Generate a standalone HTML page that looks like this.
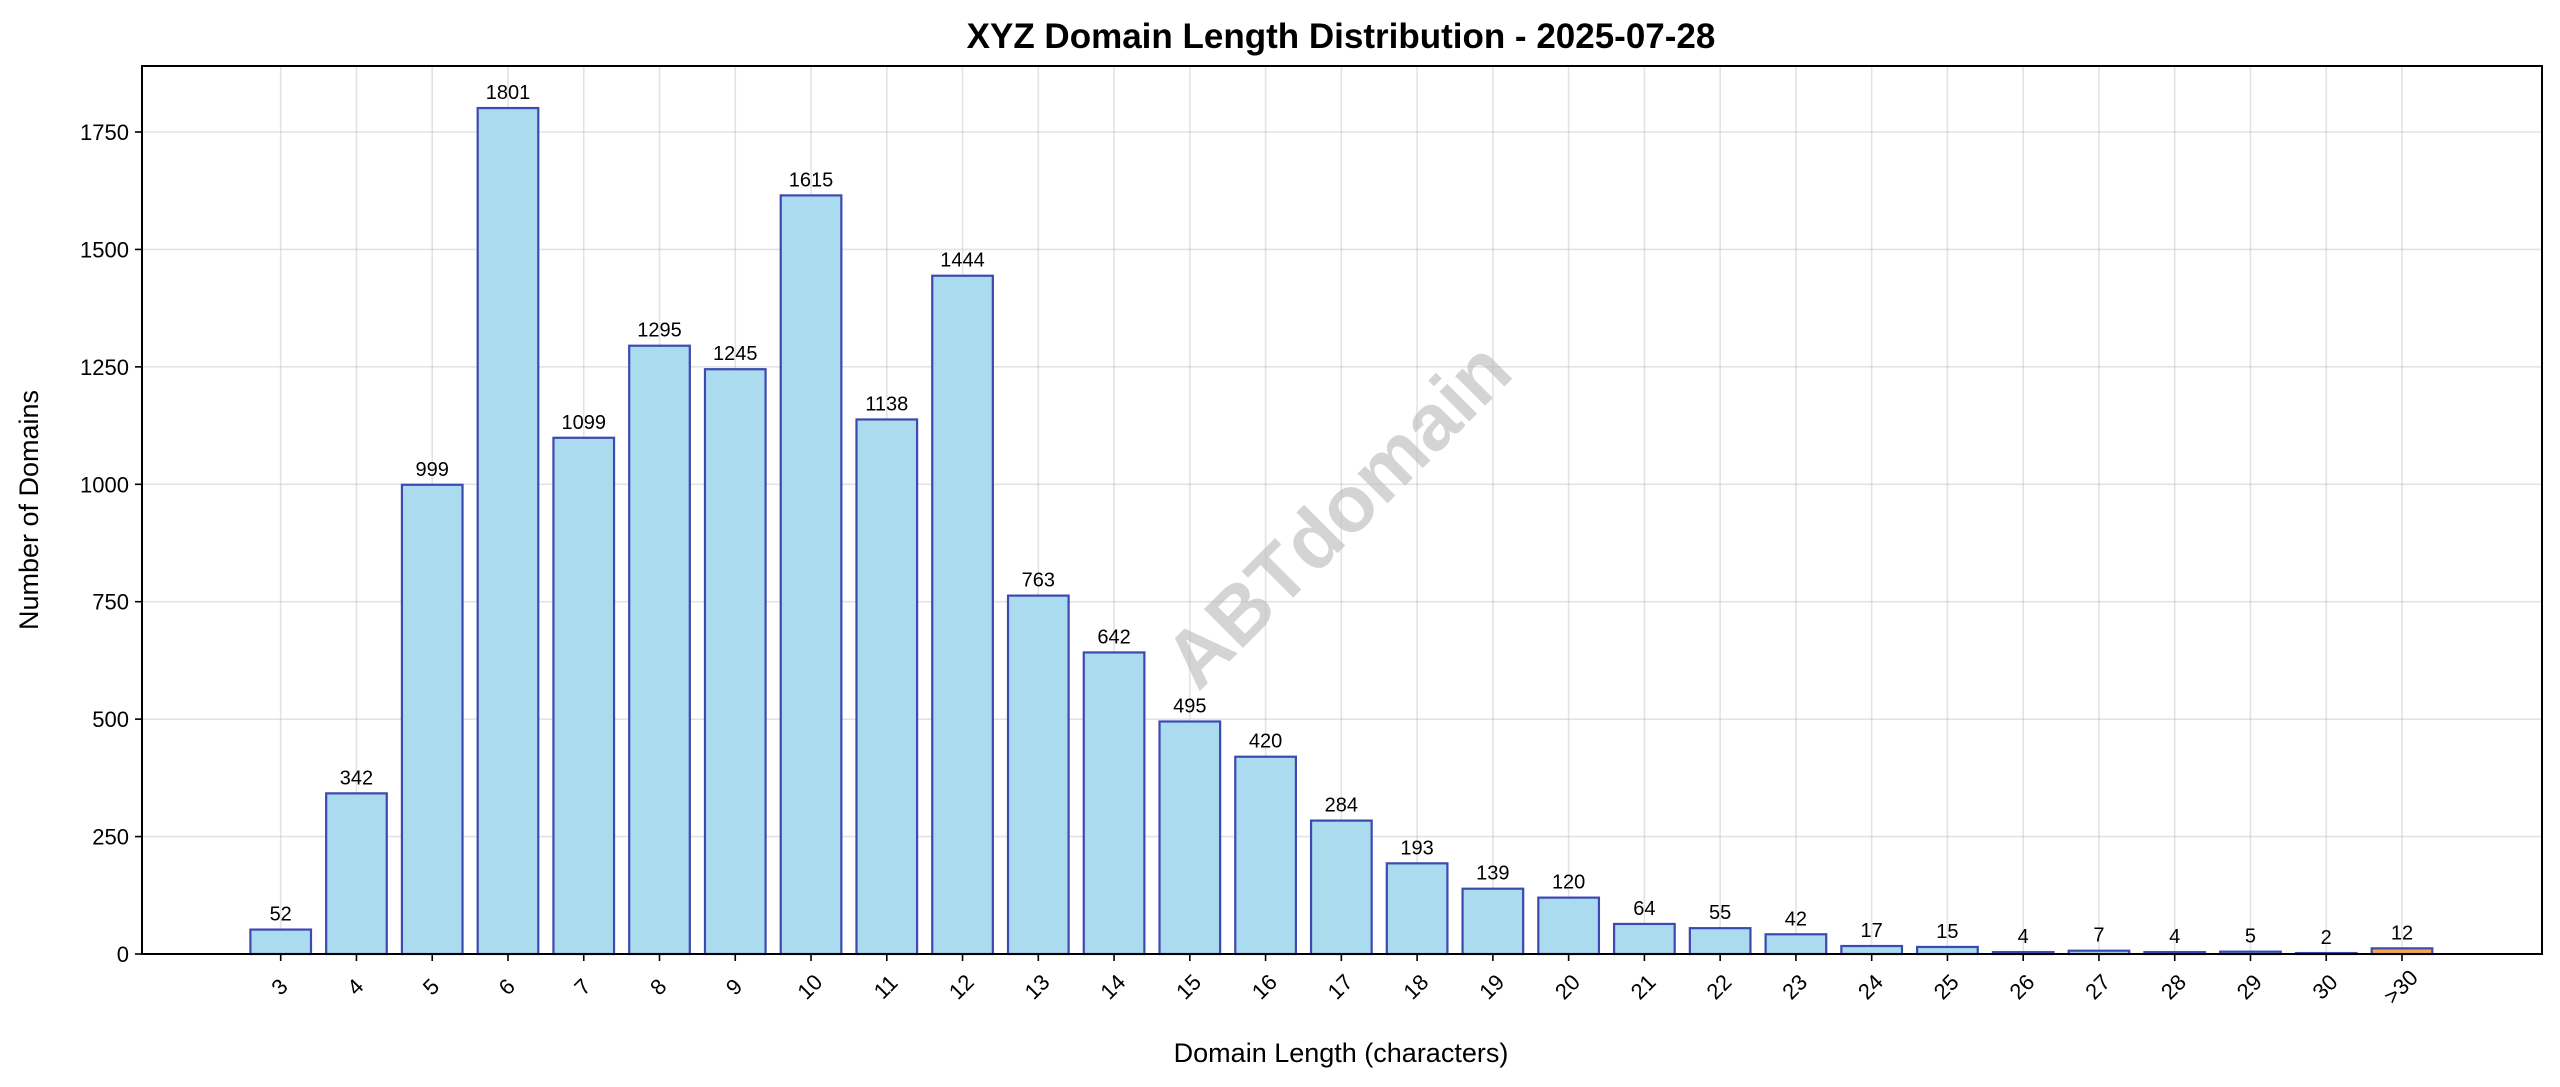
<!DOCTYPE html>
<html><head><meta charset="utf-8">
<style>
html,body{margin:0;padding:0;background:#fff;}
svg{display:block;font-family:"Liberation Sans","DejaVu Sans",sans-serif;}
</style></head>
<body>
<svg id="chart" width="2560" height="1087" viewBox="0 0 2560 1087" xmlns="http://www.w3.org/2000/svg">
<rect width="2560" height="1087" fill="#fff"/>
<text x="1341" y="48" text-anchor="middle" font-size="35" font-weight="bold" fill="#000">XYZ Domain Length Distribution - 2025-07-28</text>
<g id="grid"></g>
<text x="1342" y="519" text-anchor="middle" dominant-baseline="middle" font-size="80" font-weight="bold" fill="#bdbdbd" fill-opacity="0.65" transform="rotate(-45 1342 519)">ABTdomain</text>
<g id="bars"></g>
<g id="axes"></g>
<text x="1341" y="1062" text-anchor="middle" font-size="27" fill="#000">Domain Length (characters)</text>
<text x="38" y="510" text-anchor="middle" font-size="27" fill="#000" transform="rotate(-90 38 510)">Number of Domains</text>
</svg>
<script>
const categories = ["3","4","5","6","7","8","9","10","11","12","13","14","15","16","17","18","19","20","21","22","23","24","25","26","27","28","29","30",">30"];
const counts = [52,342,999,1801,1099,1295,1245,1615,1138,1444,763,642,495,420,284,193,139,120,64,55,42,17,15,4,7,4,5,2,12];
const yTicks = [0,250,500,750,1000,1250,1500,1750];

const NS="http://www.w3.org/2000/svg";
const L=142,R=2542,T=66,B=954;
const firstX=280.7, step=(2402-280.7)/(categories.length-1), barW=step*0.8;
function xPos(i){return firstX+i*step;}
function yPos(v){return B-v*(B-132)/1750;}
function mk(tag,attrs,parent){const e=document.createElementNS(NS,tag);for(const k in attrs)e.setAttribute(k,attrs[k]);parent.appendChild(e);return e;}
const grid=document.getElementById('grid'),bars=document.getElementById('bars'),axes=document.getElementById('axes');
categories.forEach((c,i)=>{
  const x=xPos(i);
  const g=mk('line',{x1:x,x2:x,y1:T,y2:B,stroke:'#b0b0b0','stroke-opacity':0.35,'stroke-width':1.6},grid);
  
  
});
yTicks.forEach(v=>{
  const y=yPos(v);
  const g=mk('line',{x1:L,x2:R,y1:y,y2:y,stroke:'#b0b0b0','stroke-opacity':0.35,'stroke-width':1.6},grid);
  
  
  const t=mk('line',{x1:L-7,x2:L,y1:y,y2:y,stroke:'#000','stroke-width':1.6},axes);
  
  
  const l=mk('text',{x:L-13,y:y+8,'text-anchor':'end','font-size':22,fill:'#000'},axes);
  l.textContent=v;
  
  
});
categories.forEach((c,i)=>{
  const x=xPos(i),v=counts[i],y=yPos(v);
  const last=i===categories.length-1;
  const r=mk('rect',{x:x-barW/2,y:y,width:barW,height:B-y,fill:last?'#f7a94a':'#abdbee',stroke:'#3d48b0','stroke-width':2.2},bars);
  
  
  const vl=mk('text',{x:x,y:y-9,'text-anchor':'middle','font-size':20,fill:'#000'},bars);
  vl.textContent=v;
  
  
  const t=mk('line',{x1:x,x2:x,y1:B,y2:B+7,stroke:'#000','stroke-width':1.6},axes);
  
  
  const tl=mk('text',{x:x,y:988,'text-anchor':'middle','dominant-baseline':'middle','font-size':22,fill:'#000',transform:'rotate(-45 '+x+' 988)'},axes);
  tl.textContent=c;
  
  
});
const frame=mk('rect',{x:L,y:T,width:R-L,height:B-T,fill:'none',stroke:'#000','stroke-width':2},axes);


</script>
</body></html>
